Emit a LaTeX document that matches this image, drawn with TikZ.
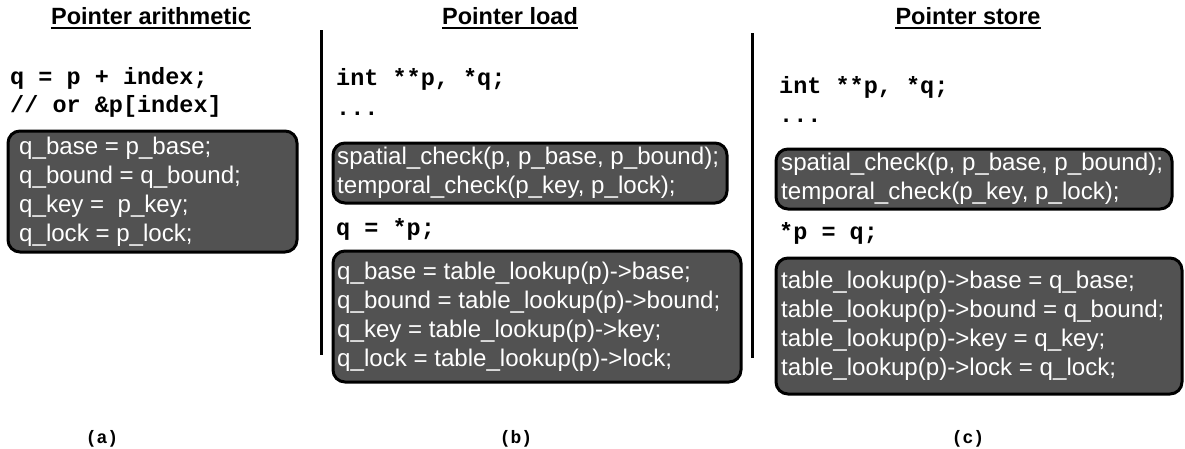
\documentclass[tikz,border=0pt]{standalone}
\usepackage{fontspec}
\setmainfont{Liberation Sans}
\newfontfamily\codefont{Liberation Mono}
\definecolor{boxgray}{RGB}{82,82,82}
\tikzset{
  heading/.style={font=\fontsize{23.5}{28}\selectfont\bfseries, anchor=base, inner sep=0pt},
  uline/.style={line width=1.8pt},
  code/.style={font=\codefont\bfseries\fontsize{23.5}{28}\selectfont, anchor=base west, inner sep=0pt},
  cbox/.style={draw=black, line width=3pt, rounded corners=12pt, fill=boxgray,
    anchor=north west, inner sep=0pt, outer sep=0pt},
  ctext/.style={text=white, font=\fontsize{24.1}{29}\selectfont, align=left,
    anchor=west, inner sep=0pt},
  divider/.style={line width=3pt},
  sublabel/.style={font=\codefont\bfseries\fontsize{18}{20}\selectfont, anchor=base, inner sep=0pt}
}
\begin{document}
\begin{tikzpicture}[x=1pt,y=-1pt]
\useasboundingbox (0,0) rectangle (1185,448);

% headings
\node[heading] (ha) at (151,24) {Pointer arithmetic};
\node[heading] (hb) at (510,24) {Pointer load};
\node[heading] (hc) at (968,24) {Pointer store};
\foreach \h in {ha,hb,hc}
  \draw[uline] ([yshift=-4pt]\h.base west) -- ([yshift=-4pt]\h.base east);

% dividers
\coordinate (d1t) at (321,30);
\coordinate (d1b) at (321,355);
\coordinate (d2t) at (752,33);
\coordinate (d2b) at (752,358);
\draw[divider] (d1t) -- (d1b);
\draw[divider] (d2t) -- (d2b);

% panel a
\node[code] (a1) at (10,84) {q = p + index;};
\node[code] (a2) at (10,112) {// or \&p[index]};
\node[cbox, minimum width=289pt, minimum height=121pt] (abox) at (8,131) {};
\node[ctext] (atext) at ([xshift=11pt]abox.west) {q\_base = p\_base;\\q\_bound = q\_bound;\\q\_key = \ p\_key;\\q\_lock = p\_lock;};

% panel b
\node[code] (b1) at (336,85) {int **p, *q;};
\node[code] (b2) at (336,115) {...};
\node[cbox, minimum width=394pt, minimum height=60pt] (bbox1) at (333,143) {};
\node[ctext] (btext1) at ([xshift=4pt]bbox1.west) {spatial\_check(p, p\_base, p\_bound);\\temporal\_check(p\_key, p\_lock);};
\node[code] (b3) at (336,235) {q = *p;};
\node[cbox, minimum width=408pt, minimum height=131pt] (bbox2) at (333,251) {};
\node[ctext] (btext2) at ([xshift=4pt]bbox2.west) {q\_base = table\_lookup(p)->base;\\q\_bound = table\_lookup(p)->bound;\\q\_key = table\_lookup(p)->key;\\q\_lock = table\_lookup(p)->lock;};

% panel c
\node[code] (c1) at (779,93) {int **p, *q;};
\node[code] (c2) at (779,122) {...};
\node[cbox, minimum width=396pt, minimum height=60pt] (cbox1) at (776,149) {};
\node[ctext] (ctext1) at ([xshift=5pt]cbox1.west) {spatial\_check(p, p\_base, p\_bound);\\temporal\_check(p\_key, p\_lock);};
\node[code] (c3) at (779,239) {*p = q;};
\node[cbox, minimum width=406pt, minimum height=136pt] (cbox2) at (776,258) {};
\node[ctext] (ctext2) at ([xshift=5pt]cbox2.west) {table\_lookup(p)->base = q\_base;\\table\_lookup(p)->bound = q\_bound;\\table\_lookup(p)->key = q\_key;\\table\_lookup(p)->lock = q\_lock;};

% sub labels
\node[sublabel] (la) at (102,443) {(a)};
\node[sublabel] (lb) at (516,443) {(b)};
\node[sublabel] (lc) at (968,443) {(c)};
\end{tikzpicture}
\end{document}
